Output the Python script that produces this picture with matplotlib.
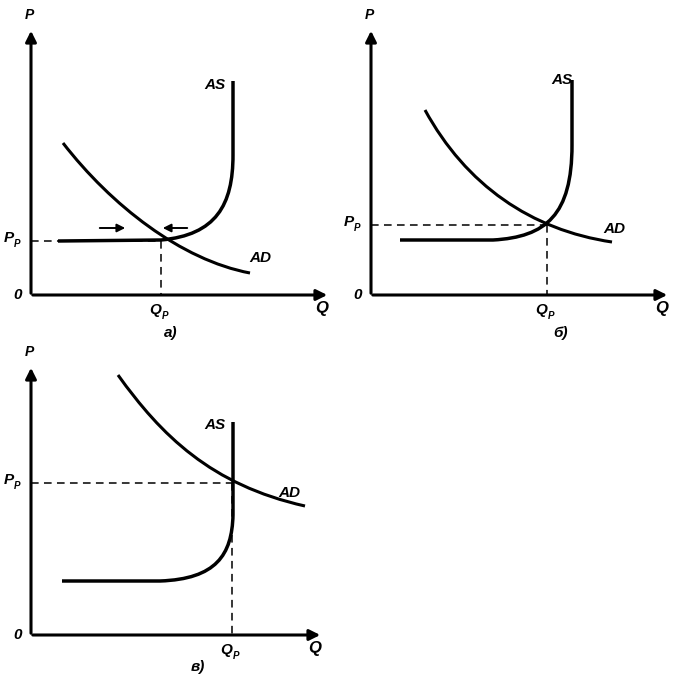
import numpy as np
import matplotlib
matplotlib.use("Agg")
import matplotlib.pyplot as plt
from matplotlib.path import Path
from matplotlib.patches import PathPatch

plt.rcParams['font.family'] = ['Liberation Sans', 'DejaVu Sans']

# panel origins (pixel position of the 0 corner) and axis lengths
origins = {"a": (31, 295), "b": (371, 295), "c": (31, 635)}
axis_len = {"a": (299, 267), "b": (299, 267), "c": (292, 270)}
panel_names = {"a": "а)", "b": "б)", "c": "в)"}
name_pos = {"a": (140, -38), "b": (190, -38), "c": (167, -32)}

# equilibrium (Q_P, P_P) for each panel, in local units
equilibrium = {"a": (130, 54), "b": (176, 70), "c": (201, 152)}

# AD: cubic bezier control points (start, c1, c2, end)
ad_ctrl = {
    "a": [(32, 152), (80, 90), (150, 35), (219, 22)],
    "b": [(54, 185), (95, 110), (160, 65), (241, 53)],
    "c": [(87, 260), (130, 200), (180, 150), (274, 129)],
}
# AS: flat start, knee start, two controls, knee end, top of vertical part
as_ctrl = {
    "a": [(27, 54), (130, 55), (185, 60), (202, 90), (202, 140), (202, 214)],
    "b": [(29, 55), (122, 55), (175, 58), (201, 80), (201, 150), (201, 215)],
    "c": [(31, 54), (129, 54), (185, 56), (201, 80), (202, 120), (202, 213)],
}
as_label = {"a": (184, 210), "b": (191, 215), "c": (184, 210)}
ad_label = {"a": (229, 37), "b": (243, 66), "c": (258, 142)}

# arrows in panel a (from, to)
arrows_a = [((66, 67), (97, 67)), ((159, 67), (129, 67))]

fig = plt.figure(figsize=(6.81, 6.78), dpi=100)
ax = fig.add_axes([0, 0, 1, 1])
ax.set_xlim(0, 681)
ax.set_ylim(678, 0)
ax.axis('off')

txt = dict(style='italic', fontweight='bold', color='black')


def to_px(key, pts):
    ox, oy = origins[key]
    return [(ox + q, oy - p) for q, p in pts]


for key in ["a", "b", "c"]:
    ox, oy = origins[key]
    lq, lp = axis_len[key]
    # axes with arrow heads
    ax.annotate('', xy=(ox + lq, oy), xytext=(ox - 1, oy),
                arrowprops=dict(arrowstyle='-|>', lw=2.2, color='k', mutation_scale=16))
    ax.annotate('', xy=(ox, oy - lp), xytext=(ox, oy + 1),
                arrowprops=dict(arrowstyle='-|>', lw=2.2, color='k', mutation_scale=16))
    ax.text(ox - 2, oy - lp - 13, 'P', fontsize=10, ha='center', va='center', **txt)
    ax.text(ox - 13, oy, '0', fontsize=11, ha='center', va='center', **txt)
    ax.text(ox + lq - 8, oy + 14, 'Q', fontsize=12, ha='center', va='center', **txt)

    # equilibrium dashed guides
    qe, pe = equilibrium[key]
    ax.plot([ox, ox + qe], [oy - pe, oy - pe], color='k', lw=1.1, dashes=(5, 3.5))
    ax.plot([ox + qe, ox + qe], [oy - pe, oy], color='k', lw=1.1, dashes=(5, 3.5))
    ax.text(ox - 27, oy - pe - 3, 'P', fontsize=11, ha='left', va='center', **txt)
    ax.text(ox - 17, oy - pe + 3, 'Р', fontsize=7, ha='left', va='center', **txt)
    ax.text(ox + qe - 12, oy + 15, 'Q', fontsize=11, ha='left', va='center', **txt)
    ax.text(ox + qe + 1, oy + 21, 'Р', fontsize=7, ha='left', va='center', **txt)

    # AD curve
    verts = to_px(key, ad_ctrl[key])
    ad_path = Path(verts, [Path.MOVETO, Path.CURVE4, Path.CURVE4, Path.CURVE4])
    ax.add_patch(PathPatch(ad_path, fill=False, lw=2.2, ec='k', capstyle='butt'))

    # AS curve
    verts = to_px(key, as_ctrl[key])
    as_path = Path(verts, [Path.MOVETO, Path.LINETO, Path.CURVE4, Path.CURVE4,
                           Path.CURVE4, Path.LINETO])
    ax.add_patch(PathPatch(as_path, fill=False, lw=2.5, ec='k', capstyle='butt'))

    q, p = as_label[key]
    ax.text(ox + q, oy - p, 'AS', fontsize=11, ha='center', va='center', **txt)
    q, p = ad_label[key]
    ax.text(ox + q, oy - p, 'AD', fontsize=11, ha='center', va='center', **txt)

    q, p = name_pos[key]
    ax.text(ox + q, oy - p, panel_names[key], fontsize=11, ha='center', va='center', **txt)

for (q0, p0), (q1, p1) in arrows_a:
    ox, oy = origins["a"]
    ax.annotate('', xy=(ox + q1, oy - p1), xytext=(ox + q0, oy - p0),
                arrowprops=dict(arrowstyle='-|>', lw=1.4, color='k', mutation_scale=12))

fig.savefig('out.png', dpi=100)
